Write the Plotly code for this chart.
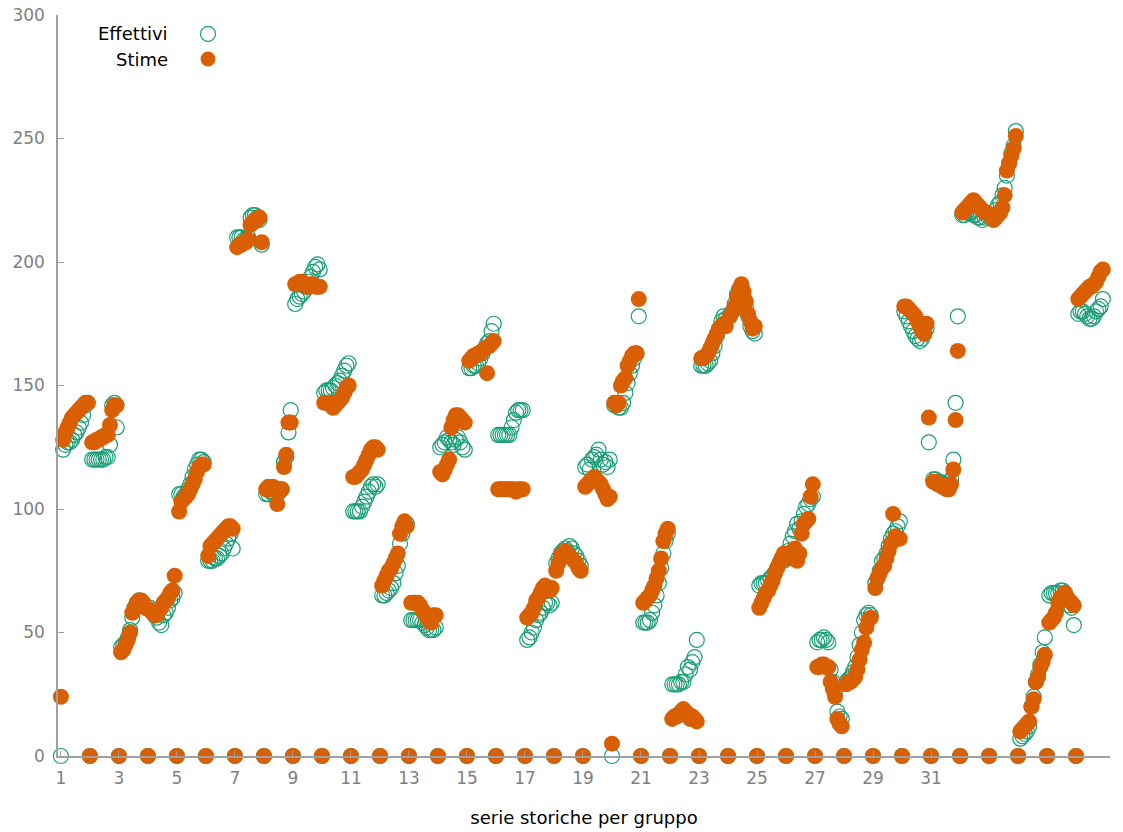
import plotly.graph_objects as go

# Each group: first reading at the group index, then 12 readings spread across the group's slot
n_groups = 36
points_per_group = 13

start_effettivi = [0] * 36
start_stime = [24] + [0] * 18 + [5] + [0] * 16

effettivi = [
    [124, 126, 127, 127, 128, 130, 131, 133, 135, 138, 142, 143],
    [120, 120, 120, 120, 120, 120, 121, 121, 126, 142, 143, 133],
    [44, 45, 46, 48, 51, 56, 60, 62, 63, 62, 61, 60],
    [60, 59, 57, 56, 54, 53, 57, 58, 60, 63, 64, 66],
    [106, 106, 105, 106, 108, 110, 113, 116, 118, 120, 120, 119],
    [79, 79, 79, 80, 80, 81, 82, 84, 86, 88, 90, 84],
    [210, 210, 210, 209, 209, 210, 218, 219, 219, 218, 217, 207],
    [106, 106, 107, 107, 105, 106, 107, 108, 119, 121, 131, 140],
    [183, 185, 186, 187, 188, 190, 192, 194, 196, 198, 199, 197],
    [147, 148, 148, 148, 149, 150, 151, 152, 154, 156, 158, 159],
    [99, 99, 99, 99, 101, 103, 105, 107, 109, 110, 109, 110],
    [65, 65, 66, 67, 68, 70, 74, 77, 86, 90, 93, 94],
    [55, 55, 55, 55, 55, 54, 53, 52, 51, 51, 51, 52],
    [125, 126, 127, 129, 128, 127, 126, 128, 129, 127, 125, 124],
    [157, 157, 158, 158, 159, 161, 163, 165, 167, 168, 172, 175],
    [130, 130, 130, 130, 130, 130, 133, 136, 139, 140, 140, 140],
    [47, 48, 50, 52, 55, 57, 58, 60, 62, 62, 61, 62],
    [78, 80, 82, 83, 84, 83, 85, 84, 82, 81, 79, 77],
    [117, 118, 116, 120, 121, 122, 124, 120, 118, 119, 117, 120],
    [142, 142, 141, 141, 143, 147, 151, 155, 158, 161, 163, 178],
    [54, 54, 54, 55, 58, 61, 65, 70, 76, 82, 87, 90],
    [29, 29, 29, 29, 30, 30, 33, 36, 35, 38, 40, 47],
    [158, 158, 158, 159, 160, 163, 166, 170, 173, 176, 178, 177],
    [179, 180, 183, 187, 189, 190, 186, 182, 178, 174, 172, 171],
    [69, 70, 70, 70, 71, 72, 73, 74, 76, 78, 80, 79],
    [83, 86, 89, 91, 94, 92, 95, 98, 101, 102, 104, 105],
    [46, 47, 47, 48, 47, 46, 35, 30, 25, 18, 16, 15],
    [30, 31, 32, 34, 36, 40, 45, 50, 55, 57, 58, 57],
    [70, 72, 75, 79, 80, 82, 85, 88, 90, 91, 93, 95],
    [180, 178, 176, 174, 172, 170, 169, 168, 169, 171, 173, 127],
    [112, 112, 111, 111, 110, 110, 110, 111, 112, 120, 143, 178],
    [219, 219, 220, 220, 220, 219, 219, 218, 218, 217, 218, 219],
    [218, 219, 221, 223, 224, 227, 230, 235, 240, 244, 247, 253],
    [7, 8, 9, 10, 12, 20, 24, 30, 33, 37, 42, 48],
    [65, 66, 66, 66, 66, 67, 67, 66, 64, 61, 60, 53],
    [179, 180, 180, 179, 178, 177, 177, 178, 180, 181, 182, 185],
]

stime = [
    [128, 131, 133, 135, 137, 138, 139, 140, 141, 142, 143, 143],
    [127, 127, 128, 128, 129, 129, 130, 130, 134, 140, 142, 142],
    [42, 43, 45, 47, 50, 58, 60, 62, 63, 63, 62, 60],
    [59, 58, 57, 57, 59, 60, 62, 63, 64, 66, 67, 73],
    [99, 103, 104, 105, 106, 108, 110, 112, 115, 117, 118, 118],
    [81, 85, 86, 87, 88, 89, 90, 91, 92, 93, 93, 92],
    [206, 207, 207, 208, 208, 209, 215, 216, 217, 217, 218, 208],
    [108, 109, 108, 109, 108, 102, 108, 108, 117, 122, 135, 135],
    [191, 191, 192, 192, 191, 190, 190, 191, 191, 190, 190, 190],
    [143, 143, 143, 142, 141, 142, 143, 144, 145, 147, 149, 150],
    [113, 113, 114, 115, 116, 118, 120, 122, 124, 125, 125, 124],
    [69, 71, 73, 75, 76, 78, 80, 82, 90, 93, 95, 93],
    [62, 62, 62, 62, 61, 59, 58, 56, 55, 54, 57, 57],
    [115, 114, 116, 118, 120, 133, 136, 138, 138, 137, 136, 135],
    [160, 161, 162, 162, 163, 163, 164, 165, 155, 166, 167, 168],
    [108, 108, 108, 108, 108, 108, 108, 108, 107, 108, 108, 108],
    [56, 57, 58, 60, 63, 64, 66, 68, 69, 68, 67, 68],
    [75, 78, 81, 82, 83, 82, 81, 80, 79, 78, 76, 75],
    [109, 110, 111, 112, 113, 112, 111, 110, 108, 106, 104, 105],
    [143, 142, 143, 150, 152, 153, 158, 160, 162, 163, 163, 185],
    [62, 63, 64, 65, 67, 69, 72, 75, 80, 87, 90, 92],
    [15, 16, 16, 17, 18, 19, 18, 17, 15, 16, 15, 14],
    [161, 161, 162, 163, 165, 167, 169, 171, 173, 174, 175, 174],
    [178, 180, 182, 186, 189, 191, 188, 184, 179, 176, 173, 174],
    [60, 62, 64, 66, 67, 69, 71, 74, 76, 78, 80, 82],
    [80, 82, 83, 84, 79, 82, 90, 94, 95, 96, 105, 110],
    [36, 36, 37, 37, 36, 36, 30, 27, 24, 15, 13, 12],
    [29, 30, 30, 31, 32, 35, 39, 43, 46, 52, 55, 56],
    [68, 72, 74, 76, 77, 80, 83, 86, 98, 89, 88, 88],
    [182, 182, 181, 180, 179, 178, 176, 174, 172, 171, 175, 137],
    [111, 111, 110, 110, 109, 109, 108, 108, 110, 116, 136, 164],
    [220, 221, 222, 223, 224, 225, 224, 223, 222, 221, 220, 220],
    [219, 217, 218, 219, 220, 222, 227, 237, 240, 243, 246, 251],
    [10, 11, 12, 13, 14, 20, 23, 30, 32, 36, 38, 41],
    [54, 55, 56, 58, 62, 64, 65, 66, 64, 63, 62, 61],
    [185, 186, 187, 188, 189, 190, 190, 191, 192, 194, 196, 197],
]

x_tick_values = list(range(1, 32, 2))
y_tick_values = [0, 50, 100, 150, 200, 250, 300]

GREEN = "#1b9e77"
ORANGE = "#d95f02"
AXIS_GREY = "#a0a0a0"
LABEL_GREY = "#808080"
FONT = "DejaVu Sans"


def flatten(starts, groups):
    xs, ys = [], []
    for g, (first, rest) in enumerate(zip(starts, groups)):
        values = [first] + rest
        for k, v in enumerate(values):
            xs.append(g + 1 + k / points_per_group)
            ys.append(v)
    return xs, ys


x_eff, y_eff = flatten(start_effettivi, effettivi)
x_est, y_est = flatten(start_stime, stime)

fig = go.Figure()
fig.add_trace(go.Scatter(
    x=x_eff, y=y_eff, mode="markers", name="Effettivi",
    marker=dict(symbol="circle-open", size=15, color=GREEN, line=dict(width=1.2, color=GREEN)),
    cliponaxis=False, showlegend=False,
))
fig.add_trace(go.Scatter(
    x=x_est, y=y_est, mode="markers", name="Stime",
    marker=dict(symbol="circle", size=16, color=ORANGE, line=dict(width=0)),
    cliponaxis=False, showlegend=False,
))

# key in the upper-left corner: label on the left, marker on the right
legend_items = [("Effettivi", 0.9744, "circle-open"), ("Stime", 0.9406, "circle")]
for label, ypos, sym in legend_items:
    fig.add_annotation(
        text=label, xref="paper", yref="paper", x=0.1065, y=ypos,
        xanchor="right", yanchor="middle", showarrow=False,
        font=dict(family=FONT, size=18, color="#000000"),
    )
for label, ypos, sym in legend_items:
    filled = sym == "circle"
    fig.add_shape(
        type="circle", xref="paper", yref="paper",
        xsizemode="pixel", ysizemode="pixel",
        xanchor=0.1426, yanchor=ypos,
        x0=-7.5, x1=7.5, y0=-7.5, y1=7.5,
        fillcolor=ORANGE if filled else "rgba(0,0,0,0)",
        line=dict(color=ORANGE if filled else GREEN, width=0 if filled else 1.2),
    )

fig.update_layout(
    width=1123, height=832,
    margin=dict(l=58, r=13, t=15, b=76, autoexpand=False),
    paper_bgcolor="white", plot_bgcolor="white",
    font=dict(family=FONT, size=17, color=LABEL_GREY),
    xaxis=dict(
        range=[0.9, 37.17], tickvals=x_tick_values, ticktext=[str(v) for v in x_tick_values],
        showgrid=False, zeroline=False, showline=True, linecolor=AXIS_GREY, linewidth=1.5,
        ticks="inside", ticklen=5, tickcolor=AXIS_GREY, ticklabelstandoff=6,
        tickfont=dict(family=FONT, size=17, color=LABEL_GREY), automargin=False,
        title=dict(text="serie storiche per gruppo", standoff=24,
                   font=dict(family=FONT, size=18, color="#000000")),
    ),
    yaxis=dict(
        range=[0, 300], tickvals=y_tick_values,
        showgrid=False, zeroline=False, showline=True, linecolor=AXIS_GREY, linewidth=1.5,
        ticks="inside", ticklen=6, tickcolor=AXIS_GREY, ticklabelstandoff=8,
        tickfont=dict(family=FONT, size=17, color=LABEL_GREY), automargin=False,
    ),
)

fig.write_html("out.html")
